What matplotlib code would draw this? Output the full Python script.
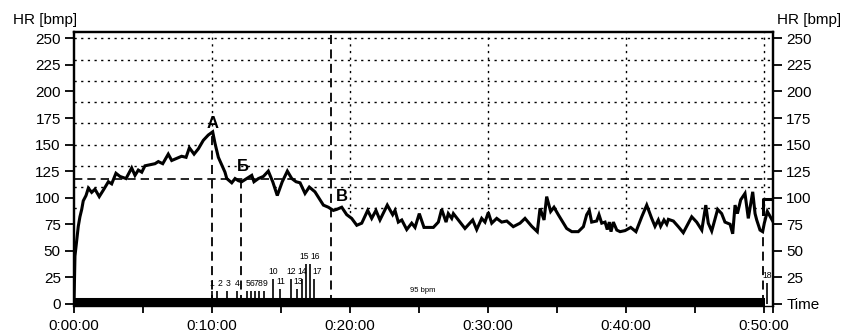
import numpy as np
import matplotlib
matplotlib.use("Agg")
import matplotlib.pyplot as plt

plt.rcParams['font.family'] = ['Liberation Sans', 'DejaVu Sans']

# ---- data -------------------------------------------------------------
time_min = [0.00, 0.07, 0.20, 0.31, 0.43, 0.56, 0.67, 0.87, 1.04, 1.28, 1.52, 1.83,
            2.12, 2.49, 2.73, 3.04, 3.33, 3.77, 4.18, 4.42, 4.66, 4.91, 5.14, 5.51,
            5.87, 6.11, 6.43, 6.83, 7.08, 7.44, 7.80, 8.12, 8.36, 8.70, 9.01, 9.37,
            9.73, 10.05, 10.22, 10.46, 10.70, 10.94, 11.07, 11.43, 11.67, 11.91, 12.15,
            12.51, 12.88, 13.04, 13.36, 13.72, 14.08, 14.40, 14.73, 15.09, 15.46, 15.78,
            16.09, 16.38, 16.74, 17.05, 17.46, 17.78, 18.07, 18.43, 18.79, 19.04, 19.40,
            19.76, 20.12, 20.49, 20.85, 21.28, 21.57, 21.88, 22.17, 22.70, 23.09, 23.26,
            23.50, 23.75, 24.11, 24.47, 24.71, 25.02, 25.36, 26.04, 26.40, 26.64, 26.96,
            27.12, 27.37, 27.49, 27.85, 28.33, 28.89, 29.18, 29.54, 29.78, 30.02, 30.27,
            30.63, 30.99, 31.36, 31.83, 32.32, 32.68, 33.17, 33.57, 33.77, 34.06, 34.25,
            34.54, 34.78, 35.09, 35.70, 36.07, 36.54, 36.91, 37.15, 37.34, 37.51, 37.87,
            38.04, 38.24, 38.48, 38.64, 38.79, 38.91, 39.08, 39.33, 39.57, 39.93, 40.34,
            40.72, 41.14, 41.50, 41.86, 42.10, 42.34, 42.51, 42.75, 42.95, 43.07, 43.43,
            43.79, 44.15, 44.76, 45.12, 45.49, 45.78, 45.96, 46.21, 46.64, 46.93, 47.17,
            47.54, 47.73, 47.90, 48.07, 48.31, 48.62, 48.86, 49.18, 49.35, 49.47, 49.71,
            49.90, 50.02, 50.24, 50.67]
hr_bpm = [0, 45, 60, 73, 82, 89, 97, 102, 109, 105, 108, 101,
          107, 115, 113, 123, 120, 118, 128, 121, 126, 124, 130, 131,
          132, 134, 132, 141, 135, 137, 139, 138, 147, 141, 146, 154,
          159, 162, 151, 138, 131, 124, 118, 114, 118, 116, 115,
          118, 121, 115, 118, 120, 125, 115, 102, 115, 125, 118,
          115, 114, 104, 110, 105.5, 99, 93, 91, 88, 89, 91,
          84, 80.5, 74, 76, 88, 80.5, 88, 79, 93, 84, 88,
          77, 79, 70, 76, 72, 85, 72, 72, 77, 89, 77,
          85, 80.5, 85, 79, 71, 79, 70, 80.5, 77, 86, 76,
          80.5, 77, 78, 72.7, 76, 80.5, 73, 68, 90, 79, 101,
          87, 91, 84, 71, 68, 68, 72.7, 84, 88, 77, 78,
          84, 76, 77, 70, 77, 68, 77, 69.5, 68, 69, 72,
          68, 82, 93, 80.5, 73, 79, 73, 79, 75, 79.6, 78,
          72.7, 67, 82, 77, 69.5, 93, 76, 68.6, 89, 85, 77,
          75, 66, 93, 85, 98, 104, 80.5, 105.5, 85, 79, 69.5,
          68, 76, 87, 77]

lap_time = [10.0, 10.36, 11.09, 11.81, 12.54, 12.83, 13.12, 13.41, 13.77,
            14.42, 14.93, 15.72, 16.16, 16.52, 16.81, 17.10, 17.39, 50.18]
lap_height = [12, 12, 12, 12, 12, 12, 12, 12, 12,
              23.5, 14, 23.5, 14, 23.5, 38, 38, 23.5, 20]
lap_label = ['1', '2', '3', '4', '5', '6', '7', '8', '9',
             '10', '11', '12', '13', '14', '15', '16', '17', '18']

flag_time = [49.95, 49.95, 50.56]
flag_hr = [85, 99, 99]

marker_label = ['А', 'Б', 'В']
marker_time = [10.0, 12.08, 18.6]
marker_text_time = [10.07, 12.27, 19.4]
marker_text_hr = [170, 129, 101.5]
end_marker_time = 49.9

zone_hr = 118
grid_hr = [90, 110, 130, 150, 170, 190, 210, 230, 250]
grid_time = [10, 20, 30, 40, 50]
x_ticks = [0, 10, 20, 30, 40, 50]
x_tick_labels = ['0:00:00', '0:10:00', '0:20:00', '0:30:00', '0:40:00', '0:50:00']
x_minor = [5, 15, 25, 35, 45, 50.65]
y_ticks = [0, 25, 50, 75, 100, 125, 150, 175, 200, 225, 250]
t_end = 50.65
y_range = (-2, 256)
band_end = 50.1
band_level = 2
band_text = '95 bpm'
band_text_pos = (25.3, 9)

# ---- figure -----------------------------------------------------------
fig = plt.figure(figsize=(8.48, 3.32), dpi=100)
ax = fig.add_axes([74 / 848, 26 / 332, 699 / 848, 274 / 332])
ax.set_xlim(0, t_end)
ax.set_ylim(*y_range)

dot = (0, (1.6, 3.2))
ax.hlines(grid_hr, 0, t_end, colors='k', linestyles=dot, lw=1.0, zorder=1)
ax.vlines(grid_time, y_range[0], y_range[1], colors='k', linestyles=dot, lw=1.0, zorder=1)

t = np.array(time_min)
h = np.array(hr_bpm)
ax.fill_between(t, y_range[0], h, color='white', zorder=2, lw=0)

dash = (0, (5, 3))
ax.axhline(zone_hr, color='k', ls=dash, lw=1.2, zorder=3)
for i, mt in enumerate(marker_time):
    top = y_range[1] if i == 2 else np.interp(mt, t, h)
    ax.vlines(mt, 0, top, colors='k', linestyles=dash, lw=1.3, zorder=3)
ax.vlines(end_marker_time, 0, np.interp(end_marker_time, t, h), colors='k',
          linestyles=dash, lw=1.3, zorder=3)

ax.plot([0, band_end], [band_level, band_level], color='k', lw=5.8,
        solid_capstyle='butt', zorder=4)
ax.text(*band_text_pos, band_text, fontsize=5.5, ha='center', va='bottom', zorder=6)

ax.vlines(lap_time, 0, lap_height, colors='k', lw=1.2, zorder=4)
nudge = {'15': -2.0, '16': 3.0, '17': 2.0, '1': -1.0, '2': 1.5}
for lt, lh, ll in zip(lap_time, lap_height, lap_label):
    ax.annotate(ll, (lt, lh), xytext=(0.5 + nudge.get(ll, 0.0), 2),
                textcoords='offset points', ha='center', va='bottom',
                fontsize=6.2, zorder=6)

ax.plot(t, h, color='k', lw=2.2, zorder=5, solid_joinstyle='miter')
ax.plot(flag_time, flag_hr, color='k', lw=2.2, zorder=5)

for ml, mx, my in zip(marker_label, marker_text_time, marker_text_hr):
    ax.text(mx, my, ml, fontsize=12, fontweight='bold', ha='center', va='center', zorder=6)

for s in ['left', 'right', 'top']:
    ax.spines[s].set_linewidth(1.6)
ax.spines['bottom'].set_linewidth(1.0)

ax.set_yticks(y_ticks)
ax.set_yticklabels([str(v) for v in y_ticks])
ax.tick_params(axis='y', direction='out', length=6.5, width=1.3, pad=3, labelsize=11)
ax.set_xticks(x_ticks)
ax.set_xticklabels(x_tick_labels)
ax.set_xticks(x_minor, minor=True)
ax.tick_params(axis='x', which='both', direction='out', length=5, width=1.3, pad=4,
               labelsize=11)

ax2 = ax.twinx()
ax2.set_ylim(*y_range)
ax2.set_yticks(y_ticks)
ax2.set_yticklabels(['Time'] + [str(v) for v in y_ticks[1:]])
ax2.tick_params(axis='y', direction='out', length=6.5, width=1.3, pad=3, labelsize=11)
for s in ['left', 'right', 'top']:
    ax2.spines[s].set_linewidth(1.6)
ax2.spines['bottom'].set_visible(False)

fig.text(13 / 848, 1 - 20 / 332, 'HR [bmp]', fontsize=11, ha='left', va='center')
fig.text(777 / 848, 1 - 20 / 332, 'HR [bmp]', fontsize=11, ha='left', va='center')

fig.savefig('out.png', dpi=100)
